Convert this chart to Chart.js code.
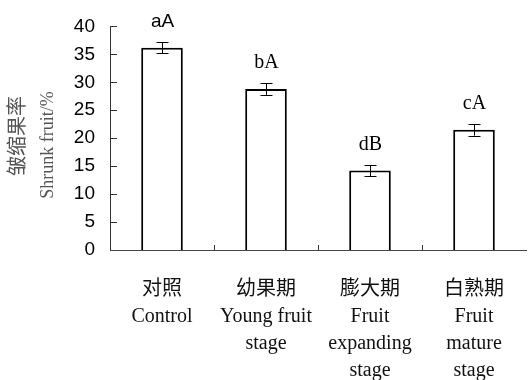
<!DOCTYPE html>
<html>
<head>
<meta charset="utf-8">
<script src="https://cdn.jsdelivr.net/npm/chart.js@4/dist/chart.umd.min.js"></script>
<style>
  html, body { margin: 0; padding: 0; background: #fff; }
  #wrap { width: 530px; height: 380px; }
</style>
</head>
<body>
<div id="wrap"><canvas id="c" width="530" height="380"></canvas></div>
<script>
// Categories (Chinese + English, multi-line)
const categories = [
  ['对照', 'Control'],
  ['幼果期', 'Young fruit', 'stage'],
  ['膨大期', 'Fruit', 'expanding', 'stage'],
  ['白熟期', 'Fruit', 'mature', 'stage']
];
// Shrunk fruit rate (%) and standard errors
const shrunkRate = [36.2, 28.8, 14.2, 21.5];
const shrunkErr = [1.0, 1.05, 1.0, 1.05];
// Significance letters
const sigLabels = ['aA', 'bA', 'dB', 'cA'];
// Y axis settings
const yMin = 0, yMax = 40, yStep = 5;
const yTitle = ['皱缩果率', 'Shrunk fruit/%'];

const serif = "'Liberation Serif', 'Noto Sans CJK SC', serif";
const sans = "'Liberation Sans', Arial, sans-serif";

const extras = {
  id: 'extras',
  afterDatasetsDraw(chart) {
    const ctx = chart.ctx;
    const xs = chart.scales.x, ys = chart.scales.y;
    const area = chart.chartArea;
    ctx.save();
    // inward tick marks on y axis
    ctx.strokeStyle = '#333';
    ctx.lineWidth = 1;
    ys.ticks.forEach(t => {
      const y = Math.round(ys.getPixelForValue(t.value)) + 0.5;
      if (t.value === yMin) return;
      ctx.beginPath();
      ctx.moveTo(area.left, y);
      ctx.lineTo(area.left + 7, y);
      ctx.stroke();
    });
    // inward tick marks between categories on x axis
    for (let i = 1; i < categories.length; i++) {
      const x = Math.round((xs.getPixelForValue(i - 1) + xs.getPixelForValue(i)) / 2) + 0.5;
      ctx.beginPath();
      ctx.moveTo(x, area.bottom);
      ctx.lineTo(x, area.bottom - 5);
      ctx.stroke();
    }
    // error bars and significance letters
    ctx.strokeStyle = '#000';
    shrunkRate.forEach((v, i) => {
      const x = Math.round(xs.getPixelForValue(i)) + 0.5;
      const yTop = ys.getPixelForValue(v + shrunkErr[i]);
      const yBot = ys.getPixelForValue(v - shrunkErr[i]);
      ctx.beginPath();
      ctx.moveTo(x, yTop); ctx.lineTo(x, yBot);
      ctx.moveTo(x - 6, Math.round(yTop) + 0.5); ctx.lineTo(x + 6, Math.round(yTop) + 0.5);
      ctx.moveTo(x - 6, Math.round(yBot) + 0.5); ctx.lineTo(x + 6, Math.round(yBot) + 0.5);
      ctx.stroke();
      ctx.fillStyle = '#000';
      ctx.textAlign = 'center';
      ctx.textBaseline = 'middle';
      ctx.font = i === 0 ? '19px ' + sans : '20px ' + serif;
      ctx.fillText(sigLabels[i], x, yTop - 20);
    });
    // y axis title, two rotated lines
    ctx.fillStyle = '#555';
    ctx.textAlign = 'center';
    ctx.textBaseline = 'middle';
    ctx.save();
    ctx.translate(16, 136);
    ctx.rotate(-Math.PI / 2);
    ctx.font = "20px 'Noto Sans CJK SC', sans-serif";
    ctx.fillText(yTitle[0], 0, 0);
    ctx.restore();
    ctx.save();
    ctx.translate(48, 145);
    ctx.rotate(-Math.PI / 2);
    ctx.font = '18px ' + serif;
    ctx.fillText(yTitle[1], 0, 0);
    ctx.restore();
    ctx.restore();
  }
};

new Chart(document.getElementById('c'), {
  type: 'bar',
  data: {
    labels: categories,
    datasets: [{
      data: shrunkRate,
      backgroundColor: '#fff',
      borderColor: '#000',
      borderWidth: 2,
      barPercentage: 0.4,
      categoryPercentage: 1.0
    }]
  },
  options: {
    responsive: false,
    animation: false,
    devicePixelRatio: 1,
    layout: { padding: { top: 21, right: 0, left: 0, bottom: 0 } },
    plugins: { legend: { display: false }, tooltip: { enabled: false } },
    scales: {
      x: {
        grid: { display: false, drawTicks: false },
        border: { display: true, color: '#444', width: 1 },
        ticks: {
          color: '#111',
          font: { family: serif, size: 20, lineHeight: 1.35 },
          padding: 26,
          autoSkip: false,
          maxRotation: 0
        },
        afterFit(s) { s.height = 130; }
      },
      y: {
        min: yMin, max: yMax,
        grid: { display: false, drawTicks: false },
        border: { display: true, color: '#333', width: 1 },
        ticks: {
          stepSize: yStep,
          color: '#000',
          font: { family: sans, size: 19 },
          padding: 15
        },
        afterFit(s) { s.width = 110; }
      }
    }
  },
  plugins: [extras]
});
</script>
</body>
</html>
